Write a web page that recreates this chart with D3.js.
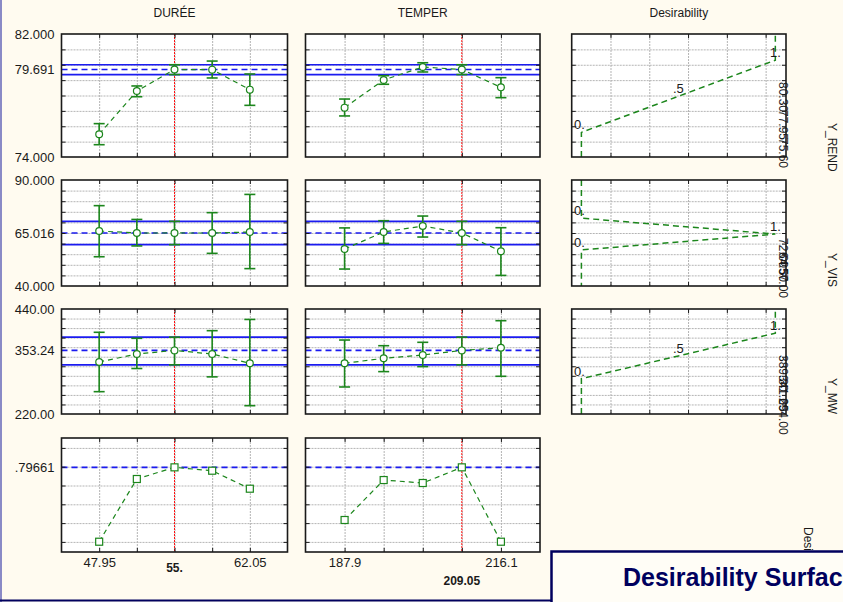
<!DOCTYPE html>
<html>
<head>
<meta charset="utf-8">
<script src="https://cdn.jsdelivr.net/npm/d3@7"></script>
<style>
  body { margin: 0; background: #fffbf0; }
  svg { display: block; font-family: "Liberation Sans", Arial, sans-serif; }
</style>
</head>
<body>
<svg id="chart" width="843" height="602"></svg>
<script>
// ---- factors ----
const factorNames = ["DURÉE", "TEMPER"];
const dureeLevels = [47.95, 51.475, 55, 58.525, 62.05];
const temperLevels = [187.9, 194.95, 202, 209.05, 216.1];
const currentLevels = [55, 209.05];
const dureeTicks = [47.95, 62.05];
const temperTicks = [187.9, 216.1];

// ---- responses ----
const responseNames = ["Y_REND", "Y_VIS", "Y_MW"];
const responseDomains = [[74, 82], [40, 90], [220, 440]];
const responseGridStep = [1, 5, 20];
const responseDecimals = [3, 3, 2];
const responsePred = [79.691, 65.016, 353.24];
const responseBandLo = [79.36, 59.5, 323];
const responseBandHi = [80.00, 70.5, 381];

// Y_REND profiles
const rendDureeMean = [75.48, 78.29, 79.691, 79.68, 78.38];
const rendDureeLo   = [74.80, 77.92, 79.36, 79.14, 77.36];
const rendDureeHi   = [76.17, 78.62, 80.00, 80.24, 79.40];
const rendTemperMean = [77.21, 79.01, 79.85, 79.691, 78.53];
const rendTemperLo   = [76.67, 78.73, 79.53, 79.36, 77.86];
const rendTemperHi   = [77.77, 79.29, 80.13, 80.00, 79.16];

// Y_VIS profiles
const visDureeMean = [65.94, 65.0, 65.016, 65.0, 65.47];
const visDureeLo   = [53.8, 58.9, 59.5, 55.4, 48.2];
const visDureeHi   = [77.9, 71.4, 70.5, 74.6, 83.2];
const visTemperMean = [57.45, 65.47, 68.3, 65.016, 56.4];
const visTemperLo   = [48.0, 60.1, 63.1, 59.5, 45.0];
const visTemperHi   = [67.4, 70.8, 73.0, 70.5, 67.5];

// Y_MW profiles
const mwDureeMean = [328.96, 345.7, 353.24, 345.7, 326.2];
const mwDureeLo   = [266.8, 315.3, 323, 297.8, 237.4];
const mwDureeHi   = [391.2, 378.6, 381, 394.6, 418.1];
const mwTemperMean = [326.2, 336.7, 343.6, 353.24, 358.8];
const mwTemperLo   = [276.6, 308.8, 319.3, 323, 299.0];
const mwTemperHi   = [375.0, 363.1, 370.2, 381, 415.5];

// ---- overall desirability profiles ----
const desirDuree = [0.401, 0.7346, 0.79661, 0.7787, 0.683];
const desirTemper = [0.5165, 0.729, 0.7133, 0.79661, 0.401];
const desirOverall = 0.79661;
const desirDomain = [0.3463, 0.9527];
const desirGrid = [0.4, 0.5, 0.6, 0.7, 0.8, 0.9];

// ---- desirability functions (d value, response value) ----
const rendFuncD = [0, 0, 0.5, 1, 1];
const rendFuncY = [74, 75.6, 77.95, 80.30, 82];
const visFuncD = [0, 0, 1, 0, 0];
const visFuncY = [90, 72.0, 64.5, 57.0, 40];
const mwFuncD = [0, 0, 0.5, 1, 1];
const mwFuncY = [220, 294, 341.65, 389.3, 440];
const dAxisDomain = [-0.05, 1.055];
const dAxisGrid = [0.15, 0.35, 0.55, 0.75, 0.95];

// ---- layout ----
const GREEN = "#1c861c", BLUE = "#1b1bf0", RED = "#ff1010", NAVY = "#00005e", INK = "#1a1a1a";
const colX = [[61.5, 287.5], [305.5, 540], [571.7, 786]];
const rowY = [[34, 157], [180, 286], [309, 414], [438, 552]];
const valueLabelStarts = [[82, 110, 138], [238, 252, 268], [355, 375, 398]];
const rowLabelStarts = [123, 253, 378];

const svg = d3.select("#chart");

const profiles = [
  [[rendDureeMean, rendDureeLo, rendDureeHi], [rendTemperMean, rendTemperLo, rendTemperHi]],
  [[visDureeMean, visDureeLo, visDureeHi], [visTemperMean, visTemperLo, visTemperHi]],
  [[mwDureeMean, mwDureeLo, mwDureeHi], [mwTemperMean, mwTemperLo, mwTemperHi]]
];
const factorLevels = [dureeLevels, temperLevels];
const factorTicks = [dureeTicks, temperTicks];
const funcs = [[rendFuncD, rendFuncY], [visFuncD, visFuncY], [mwFuncD, mwFuncY]];

function levelScale(levels, c) {
  const step = levels[1] - levels[0];
  return d3.scaleLinear()
    .domain([levels[0] - step, levels[levels.length - 1] + step])
    .range(colX[c]);
}

function panelBase(x, y, xGrid, yGrid) {
  const g = svg.append("g");
  const [x0, x1] = x.range();
  const [yb, yt] = y.range();
  g.append("rect").attr("x", x0).attr("y", yt)
    .attr("width", x1 - x0).attr("height", yb - yt).attr("fill", "#ffffff");
  const grid = g.append("g");
  grid.append("g").attr("transform", `translate(0,${yb})`)
    .call(d3.axisBottom(x).tickValues(xGrid).tickSize(-(yb - yt)).tickFormat(""));
  grid.append("g").attr("transform", `translate(${x0},0)`)
    .call(d3.axisLeft(y).tickValues(yGrid).tickSize(-(x1 - x0)).tickFormat(""));
  grid.selectAll(".domain").remove();
  grid.selectAll("line").attr("stroke", "#b4b4b4").attr("stroke-dasharray", "2,1");
  return g;
}

function panelFrame(g, x, y, xGrid, yGrid) {
  const [x0, x1] = x.range();
  const [yb, yt] = y.range();
  const t = g.append("g");
  t.append("g").attr("transform", `translate(${x0},0)`)
    .call(d3.axisLeft(y).tickValues(yGrid).tickSize(-4).tickFormat(""));
  t.append("g").attr("transform", `translate(${x1},0)`)
    .call(d3.axisRight(y).tickValues(yGrid).tickSize(-4).tickFormat(""));
  t.append("g").attr("transform", `translate(0,${yt})`)
    .call(d3.axisTop(x).tickValues(xGrid).tickSize(-4).tickFormat(""));
  t.append("g").attr("transform", `translate(0,${yb})`)
    .call(d3.axisBottom(x).tickValues(xGrid).tickSize(-4).tickFormat(""));
  t.selectAll(".domain").remove();
  t.selectAll("line").attr("stroke", INK);
  g.append("rect").attr("x", x0).attr("y", yt)
    .attr("width", x1 - x0).attr("height", yb - yt)
    .attr("fill", "none").attr("stroke", INK).attr("stroke-width", 1.6);
}

function hline(g, x, yv, color, dash, width) {
  const [x0, x1] = x.range();
  g.append("line").attr("x1", x0).attr("x2", x1).attr("y1", yv).attr("y2", yv)
    .attr("stroke", color).attr("stroke-width", width)
    .attr("stroke-dasharray", dash);
}

function currentLine(g, x, y, v) {
  const [yb, yt] = y.range();
  g.append("line").attr("x1", x(v)).attr("x2", x(v)).attr("y1", yt).attr("y2", yb)
    .attr("stroke", RED).attr("stroke-width", 1).attr("stroke-dasharray", "2,1");
}

// ---- column headers ----
const headers = [factorNames[0], factorNames[1], "Desirability"];
headers.forEach((h, c) => {
  svg.append("text").attr("x", (colX[c][0] + colX[c][1]) / 2).attr("y", 17)
    .attr("text-anchor", "middle").attr("font-size", 12).attr("fill", INK).text(h);
});

// ---- response rows ----
responseNames.forEach((name, r) => {
  const y = d3.scaleLinear().domain(responseDomains[r]).range([rowY[r][1], rowY[r][0]]);
  const step = responseGridStep[r];
  const yGrid = d3.range(responseDomains[r][0] + step, responseDomains[r][1] - step / 2, step);

  factorLevels.forEach((levels, c) => {
    const x = levelScale(levels, c);
    const g = panelBase(x, y, levels, yGrid);
    const [mean, lo, hi] = profiles[r][c];

    hline(g, x, y(responseBandHi[r]), BLUE, null, 1.6);
    hline(g, x, y(responseBandLo[r]), BLUE, null, 1.6);
    hline(g, x, y(responsePred[r]), BLUE, "6,4", 1.6);
    currentLine(g, x, y, currentLevels[c]);

    const line = d3.line().x((d, i) => x(levels[i])).y(d => y(d));
    g.append("path").datum(mean).attr("d", line).attr("fill", "none")
      .attr("stroke", GREEN).attr("stroke-width", 1.2).attr("stroke-dasharray", "5,4");

    const bars = g.append("g").attr("stroke", GREEN).attr("stroke-width", 1.6);
    levels.forEach((lv, i) => {
      const cx = x(lv);
      bars.append("line").attr("x1", cx).attr("x2", cx).attr("y1", y(lo[i])).attr("y2", y(hi[i]));
      bars.append("line").attr("x1", cx - 5.5).attr("x2", cx + 5.5).attr("y1", y(lo[i])).attr("y2", y(lo[i]));
      bars.append("line").attr("x1", cx - 5.5).attr("x2", cx + 5.5).attr("y1", y(hi[i])).attr("y2", y(hi[i]));
    });
    g.selectAll("circle.pt").data(mean).join("circle").attr("class", "pt")
      .attr("cx", (d, i) => x(levels[i])).attr("cy", d => y(d)).attr("r", 3.4)
      .attr("fill", "#ffffff").attr("stroke", GREEN).attr("stroke-width", 1.2);

    panelFrame(g, x, y, levels, yGrid);

    if (c === 0) {
      const fmt = d3.format("." + responseDecimals[r] + "f");
      const ax = svg.append("g").attr("transform", `translate(${colX[0][0]},0)`)
        .call(d3.axisLeft(y).tickValues([responseDomains[r][0], responsePred[r], responseDomains[r][1]])
          .tickSize(0).tickPadding(7).tickFormat(fmt));
      ax.select(".domain").remove();
      ax.selectAll("text").attr("font-size", 13).attr("fill", INK)
        .attr("font-family", "Liberation Sans, Arial, sans-serif");
    }
  });

  // desirability function panel
  const xd = d3.scaleLinear().domain(dAxisDomain).range(colX[2]);
  const g = panelBase(xd, y, dAxisGrid, yGrid);
  const [fd, fy] = funcs[r];
  const fline = d3.line().x((d, i) => xd(fd[i])).y(d => y(d));
  g.append("path").datum(fy).attr("d", fline).attr("fill", "none")
    .attr("stroke", GREEN).attr("stroke-width", 1.5).attr("stroke-dasharray", "6,4");
  panelFrame(g, xd, y, dAxisGrid, yGrid);
  for (let i = 1; i < fd.length - 1; i++) {
    const lbl = fd[i] === 0 ? "0." : fd[i] === 1 ? "1." : ".5";
    g.append("text").attr("x", xd(fd[i]) - (fd[i] === 0 ? 2 : 0)).attr("y", y(fy[i]) - 3)
      .attr("text-anchor", "middle").attr("font-size", 13).attr("fill", INK).text(lbl);
  }
  // specification values, written vertically along the right edge
  const specs = fy.slice(1, fy.length - 1).slice().sort((a, b) => b - a);
  specs.forEach((v, i) => {
    svg.append("text").attr("transform", `translate(779,${valueLabelStarts[r][i]}) rotate(90)`)
      .attr("font-size", 12).attr("fill", INK).text(d3.format(".2f")(v));
  });
  svg.append("text").attr("transform", `translate(828,${rowLabelStarts[r]}) rotate(90)`)
    .attr("font-size", 12).attr("fill", INK).text(name);
});

// ---- overall desirability row ----
{
  const r = 3;
  const y = d3.scaleLinear().domain(desirDomain).range([rowY[r][1], rowY[r][0]]);
  const series = [desirDuree, desirTemper];
  factorLevels.forEach((levels, c) => {
    const x = levelScale(levels, c);
    const g = panelBase(x, y, levels, desirGrid);
    hline(g, x, y(desirOverall), BLUE, "6,4", 1.6);
    currentLine(g, x, y, currentLevels[c]);
    const line = d3.line().x((d, i) => x(levels[i])).y(d => y(d));
    g.append("path").datum(series[c]).attr("d", line).attr("fill", "none")
      .attr("stroke", GREEN).attr("stroke-width", 1.2).attr("stroke-dasharray", "5,4");
    g.selectAll("rect.pt").data(series[c]).join("rect").attr("class", "pt")
      .attr("x", (d, i) => x(levels[i]) - 3.5).attr("y", d => y(d) - 3.5)
      .attr("width", 7).attr("height", 7)
      .attr("fill", "#ffffff").attr("stroke", GREEN).attr("stroke-width", 1.2);
    panelFrame(g, x, y, levels, desirGrid);

    // level labels under the panel; current level in bold
    const yb = rowY[r][1];
    const fmtLevel = v => Number.isInteger(v) ? v + "." : String(v);
    const ax = svg.append("g").attr("transform", `translate(0,${yb})`)
      .call(d3.axisBottom(x).tickValues(factorTicks[c]).tickSize(0).tickPadding(6).tickFormat(fmtLevel));
    ax.select(".domain").remove();
    ax.selectAll("text").attr("font-size", 13).attr("fill", INK)
      .attr("font-family", "Liberation Sans, Arial, sans-serif");
    svg.append("text").attr("x", x(currentLevels[c])).attr("y", yb + (c === 0 ? 20 : 33))
      .attr("text-anchor", "middle").attr("font-size", 12).attr("font-weight", "bold")
      .attr("fill", INK).text(fmtLevel(currentLevels[c]));
  });
  const fmtD = v => d3.format(".5f")(v).replace(/^0\./, ".");
  const ax = svg.append("g").attr("transform", `translate(${colX[0][0]},0)`)
    .call(d3.axisLeft(y).tickValues([desirOverall]).tickSize(0).tickPadding(7).tickFormat(fmtD));
  ax.select(".domain").remove();
  ax.selectAll("text").attr("font-size", 13).attr("fill", INK)
    .attr("font-family", "Liberation Sans, Arial, sans-serif");

  svg.append("text").attr("transform", "translate(804,527) rotate(90)")
    .attr("font-size", 12).attr("fill", INK).text("Desirability");
}

// ---- window chrome ----
svg.append("line").attr("x1", 1).attr("x2", 1).attr("y1", 0).attr("y2", 602)
  .attr("stroke", "#8a8ac6").attr("stroke-width", 2);
svg.append("line").attr("x1", 0).attr("x2", 552).attr("y1", 600.5).attr("y2", 600.5)
  .attr("stroke", NAVY).attr("stroke-width", 2);
svg.append("rect").attr("x", 551.5).attr("y", 551.5).attr("width", 320).attr("height", 70)
  .attr("fill", "#fffdf6").attr("stroke", NAVY).attr("stroke-width", 2.5);
svg.append("text").attr("x", 623).attr("y", 586).attr("font-size", 25).attr("font-weight", "bold")
  .attr("fill", NAVY).text("Desirability Surface/Contours");
</script>
</body>
</html>
